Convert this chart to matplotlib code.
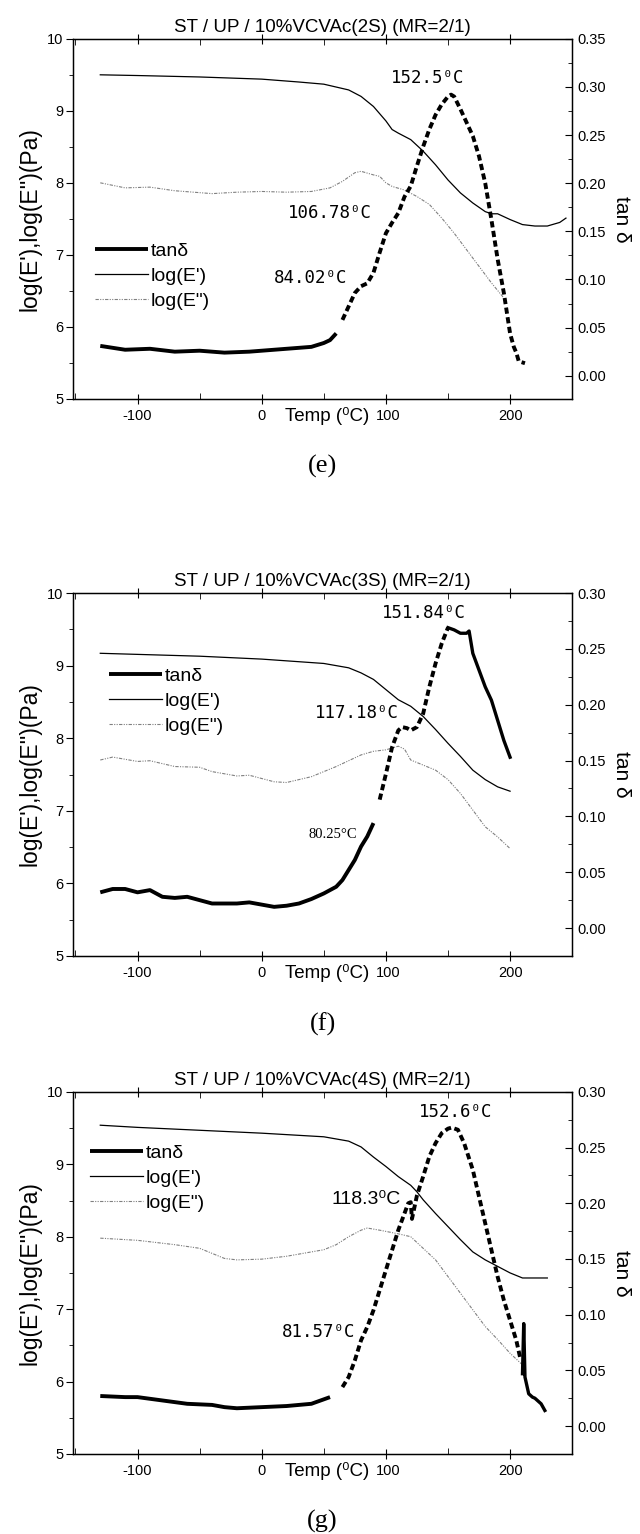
import numpy as np
import matplotlib
matplotlib.use("Agg")
from matplotlib import pyplot as plt
from matplotlib.ticker import MultipleLocator, FixedLocator, FixedFormatter

plt.rcParams['font.family'] = ['Liberation Sans', 'DejaVu Sans']

# ---- panel (e): 2S ----
e_t_Ep = [-130, -100, -50, 0, 30, 50, 60, 70, 80, 90, 100, 105, 110, 120, 130, 140, 150, 160, 170, 180, 185, 190, 200, 210, 220, 230, 240, 245]
e_Ep = [9.50, 9.49, 9.47, 9.44, 9.40, 9.37, 9.33, 9.29, 9.20, 9.06, 8.86, 8.74, 8.69, 8.60, 8.44, 8.25, 8.04, 7.86, 7.72, 7.60, 7.57, 7.57, 7.49, 7.42, 7.40, 7.40, 7.45, 7.51]
e_t_Epp = [-130, -110, -90, -70, -40, -20, 0, 20, 40, 55, 65, 75, 80, 90, 95, 100, 105, 115, 125, 135, 145, 155, 165, 175, 185, 195]
e_Epp = [8.00, 7.93, 7.94, 7.89, 7.85, 7.87, 7.88, 7.87, 7.88, 7.93, 8.02, 8.14, 8.16, 8.11, 8.09, 8.00, 7.95, 7.90, 7.81, 7.70, 7.51, 7.30, 7.07, 6.84, 6.61, 6.40]
e_t_tan = [-130, -110, -90, -70, -50, -30, -10, 10, 30, 40, 50, 55, 60, 65, 70, 75, 80, 85, 90, 95, 100, 105, 110, 115, 120, 125, 130, 135, 140, 145, 150, 152.5, 155, 160, 165, 170, 175, 180, 185, 190, 195, 200, 203, 205, 207, 212]
e_tan = [0.031, 0.027, 0.028, 0.025, 0.026, 0.024, 0.025, 0.027, 0.029, 0.030, 0.034, 0.037, 0.044, 0.058, 0.072, 0.086, 0.093, 0.096, 0.107, 0.128, 0.148, 0.159, 0.169, 0.186, 0.197, 0.218, 0.238, 0.256, 0.271, 0.282, 0.290, 0.292, 0.290, 0.277, 0.263, 0.249, 0.228, 0.200, 0.162, 0.121, 0.086, 0.044, 0.030, 0.024, 0.015, 0.013]

# ---- panel (f): 3S ----
f_t_Ep = [-130, -50, 0, 50, 70, 80, 90, 100, 110, 120, 130, 140, 150, 160, 170, 180, 190, 200]
f_Ep = [9.17, 9.13, 9.09, 9.03, 8.97, 8.90, 8.81, 8.67, 8.53, 8.44, 8.30, 8.12, 7.93, 7.75, 7.56, 7.43, 7.33, 7.27]
f_t_Epp = [-130, -120, -100, -90, -70, -50, -40, -20, -10, 10, 20, 40, 60, 80, 90, 100, 110, 115, 120, 130, 140, 150, 160, 170, 180, 190, 200]
f_Epp = [7.70, 7.74, 7.68, 7.69, 7.61, 7.60, 7.54, 7.48, 7.49, 7.40, 7.39, 7.47, 7.61, 7.77, 7.82, 7.84, 7.89, 7.85, 7.70, 7.63, 7.56, 7.43, 7.24, 7.01, 6.78, 6.64, 6.48]
f_t_tan = [-130, -120, -110, -100, -90, -80, -70, -60, -50, -40, -20, -10, 0, 10, 20, 30, 40, 50, 60, 65, 70, 75, 80, 85, 90, 95, 100, 105, 110, 113, 117, 120, 125, 130, 135, 140, 145, 150, 155, 160, 165, 167, 170, 175, 180, 185, 190, 195, 200]
f_tan = [0.032, 0.035, 0.035, 0.032, 0.034, 0.028, 0.027, 0.028, 0.025, 0.022, 0.022, 0.023, 0.021, 0.019, 0.020, 0.022, 0.026, 0.031, 0.037, 0.043, 0.052, 0.061, 0.073, 0.082, 0.094, 0.115, 0.138, 0.162, 0.177, 0.180, 0.179, 0.177, 0.180, 0.192, 0.216, 0.237, 0.255, 0.269, 0.267, 0.264, 0.264, 0.266, 0.246, 0.231, 0.216, 0.204, 0.186, 0.168, 0.153]

# ---- panel (g): 4S ----
g_t_Ep = [-130, -100, -50, 0, 50, 70, 80, 90, 100, 110, 120, 125, 130, 140, 150, 160, 170, 180, 190, 200, 210, 220, 230]
g_Ep = [9.54, 9.51, 9.47, 9.43, 9.38, 9.32, 9.24, 9.10, 8.97, 8.83, 8.71, 8.62, 8.51, 8.32, 8.14, 7.96, 7.79, 7.68, 7.59, 7.50, 7.43, 7.43, 7.43]
g_t_Epp = [-130, -100, -70, -50, -30, -20, 0, 20, 50, 60, 70, 80, 85, 95, 110, 120, 130, 140, 150, 160, 170, 180, 190, 200, 210]
g_Epp = [7.98, 7.95, 7.89, 7.84, 7.70, 7.68, 7.69, 7.73, 7.82, 7.89, 8.00, 8.09, 8.12, 8.09, 8.04, 8.00, 7.84, 7.68, 7.45, 7.22, 6.99, 6.76, 6.58, 6.39, 6.23]
g_t_tan = [-130, -110, -100, -80, -60, -40, -30, -20, 0, 20, 40, 55, 65, 70, 75, 80, 85, 90, 95, 100, 105, 110, 115, 118, 120, 121, 125, 130, 135, 140, 145, 150, 153, 158, 163, 170, 175, 180, 185, 190, 195, 200, 205, 208, 210, 211, 212, 215, 218, 220, 225, 228]
g_tan = [0.027, 0.026, 0.026, 0.023, 0.020, 0.019, 0.017, 0.016, 0.017, 0.018, 0.020, 0.026, 0.035, 0.044, 0.059, 0.077, 0.089, 0.104, 0.122, 0.140, 0.158, 0.176, 0.191, 0.200, 0.201, 0.186, 0.207, 0.224, 0.242, 0.254, 0.263, 0.267, 0.268, 0.266, 0.254, 0.230, 0.206, 0.182, 0.158, 0.134, 0.113, 0.095, 0.077, 0.062, 0.047, 0.092, 0.044, 0.029, 0.026, 0.025, 0.020, 0.014]

panels = [
    dict(title="ST / UP / 10%VCVAc(2S) (MR=2/1)", tag="(e)",
         Ep=(e_t_Ep, e_Ep), Epp=(e_t_Epp, e_Epp), tan=(e_t_tan, e_tan),
         dash=(62, 220), rlim=(-0.024, 0.35), rticks=np.arange(0, 0.351, 0.05),
         rect=[0.114, 0.740, 0.780, 0.2347], leg=(0.045, 0.435),
         notes=[("152.5\u2070C", 134, 9.46, "mono"), ("106.78\u2070C", 55, 7.58, "mono"),
                ("84.02\u2070C", 39, 6.68, "mono")]),
    dict(title="ST / UP / 10%VCVAc(3S) (MR=2/1)", tag="(f)",
         Ep=(f_t_Ep, f_Ep), Epp=(f_t_Epp, f_Epp), tan=(f_t_tan, f_tan),
         dash=(92, 150), rlim=(-0.025, 0.30), rticks=np.arange(0, 0.301, 0.05),
         rect=[0.114, 0.3768, 0.780, 0.2366], leg=(0.073, 0.795),
         notes=[("151.84\u2070C", 131, 9.72, "mono"), ("117.18\u2070C", 77, 8.35, "mono"),
                ("80.25\u00b0C", 57, 6.67, "serif")]),
    dict(title="ST / UP / 10%VCVAc(4S) (MR=2/1)", tag="(g)",
         Ep=(g_t_Ep, g_Ep), Epp=(g_t_Epp, g_Epp), tan=(g_t_tan, g_tan),
         dash=(60, 209), rlim=(-0.025, 0.30), rticks=np.arange(0, 0.301, 0.05),
         rect=[0.114, 0.0522, 0.780, 0.236], leg=(0.035, 0.855),
         notes=[("152.6\u2070C", 156, 9.72, "mono"), ("118.3\u2070C", 84, 8.51, "sans"),
                ("81.57\u2070C", 46, 6.69, "mono")]),
]

fonts = {"mono": dict(family=["DejaVu Sans Mono"], fontsize=12.5),
         "sans": dict(family=["Liberation Sans", "DejaVu Sans"], fontsize=14),
         "serif": dict(family=["Liberation Serif", "DejaVu Serif"], fontsize=10.5)}

fig = plt.figure(figsize=(6.4, 15.34), dpi=100)
fig.set_facecolor('w')

for p in panels:
    ax = fig.add_axes(p["rect"])
    ax2 = ax.twinx()

    l1, = ax.plot(*p["Ep"], c="k", lw=0.9, label="log(E')")
    l2, = ax.plot(*p["Epp"], c="#808080", lw=0.8, dashes=(3, 1.2, 1, 1.2, 1, 1.2), label="log(E\")")

    t = np.array(p["tan"][0], float)
    v = np.array(p["tan"][1], float)
    a, b = p["dash"]
    m1 = t <= a
    m2 = (t >= a) & (t <= b)
    m3 = t >= b
    l3, = ax2.plot(t[m1], v[m1], c="k", lw=2.8, solid_capstyle="butt", label="tan\u03b4")
    ax2.plot(t[m2], v[m2], c="k", lw=2.8, dashes=(1.6, 0.9))
    if m3.sum() > 1:
        ax2.plot(t[m3], v[m3], c="k", lw=2.4)

    ax.set_xlim(-152, 250)
    ax.set_ylim(5, 10)
    ax2.set_ylim(*p["rlim"])

    ax.xaxis.set_major_locator(FixedLocator([-100, 0, 100, 200]))
    ax.xaxis.set_major_formatter(FixedFormatter(["-100", "0", "", "200"]))
    ax.xaxis.set_minor_locator(MultipleLocator(50))
    ax.tick_params(axis="x", which="major", direction="inout", length=7, top=True, labelsize=10.5, pad=4)
    ax.tick_params(axis="x", which="minor", direction="in", length=4, top=True)
    ax.yaxis.set_major_locator(MultipleLocator(1))
    ax.yaxis.set_minor_locator(MultipleLocator(0.5))
    ax.tick_params(axis="y", which="major", direction="out", length=5, labelsize=10.5, pad=2)
    ax.tick_params(axis="y", which="minor", direction="out", length=3)

    ax2.set_yticks(p["rticks"])
    ax2.set_yticklabels(["%.2f" % r for r in p["rticks"]])
    ax2.yaxis.set_minor_locator(MultipleLocator(0.025))
    ax2.tick_params(axis="y", which="major", direction="in", length=5, labelsize=10.5, pad=4)
    ax2.tick_params(axis="y", which="minor", direction="in", length=3)

    # axis title sits in the tick-label row, with "100" right after it
    ax.text(0.51, -0.022, "Temp (\u2070C)", transform=ax.transAxes, ha="center", va="top", fontsize=13.5)
    ax.annotate("100", xy=(100, 0), xycoords=("data", "axes fraction"), xytext=(2, -7.5),
                textcoords="offset points", ha="center", va="top", fontsize=10.5)

    ax.set_ylabel("log(E'),log(E'')(Pa)", fontsize=16.5, labelpad=4)
    ax2.set_ylabel("tan \u03b4", fontsize=15, rotation=270, labelpad=18)
    ax.set_title(p["title"], fontsize=13.5, pad=5)

    for txt, x, y, kind in p["notes"]:
        ax.text(x, y, txt, ha="center", va="center", **fonts[kind])

    ax2.legend([l3, l1, l2], ["tan\u03b4", "log(E')", "log(E\")"], loc="upper left",
               bbox_to_anchor=p["leg"], frameon=False, fontsize=14, handlelength=2.7,
               handletextpad=0.15, labelspacing=0.38, borderpad=0, borderaxespad=0)

    for sp in ax.spines.values():
        sp.set_linewidth(1.0)

    # panel tag below the axes
    ax.text(0.5, -0.155, p["tag"], transform=ax.transAxes, ha="center", va="top",
            family=["Liberation Serif", "DejaVu Serif"], fontsize=19)

fig.savefig("out.png", dpi=100)
